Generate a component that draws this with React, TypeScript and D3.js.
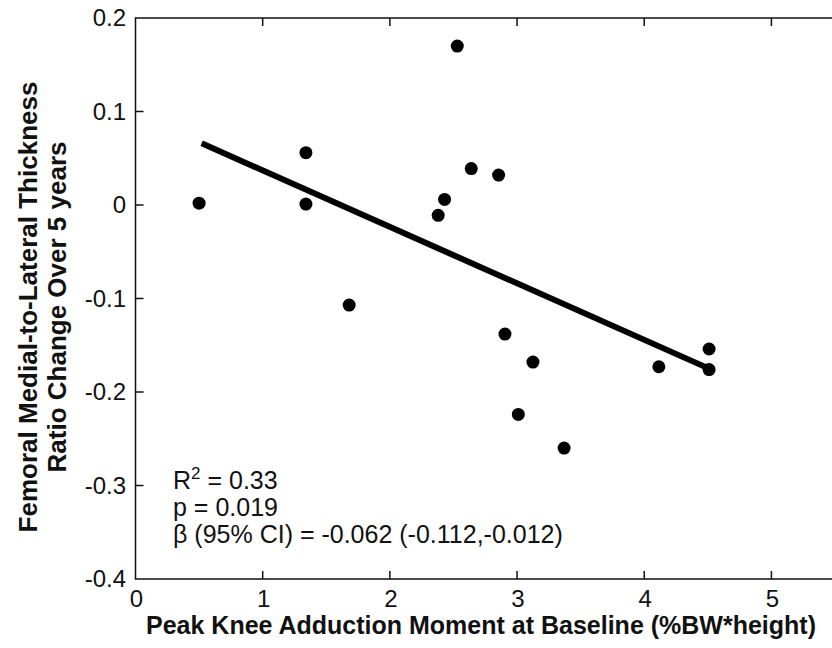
import { useEffect, useRef } from 'react';
import * as d3 from 'd3';

// peak knee adduction moment (x) vs. ratio change over 5 years (y)
const momentValues = [0.5, 1.34, 1.34, 1.68, 2.38, 2.43, 2.53, 2.64, 2.855, 2.905, 3.01, 3.125, 3.37, 4.115, 4.51, 4.51];
const ratioChange = [0.002, 0.056, 0.001, -0.107, -0.011, 0.006, 0.170, 0.039, 0.032, -0.138, -0.224, -0.168, -0.260, -0.173, -0.154, -0.176];

// fitted regression line end points
const fitX = [0.52, 4.51];
const fitY = [0.066, -0.175];

const xTicks = [0, 1, 2, 3, 4, 5];
const xTickLabels = ['0', '1', '2', '3', '4', '5'];
const yTicks = [-0.4, -0.3, -0.2, -0.1, 0, 0.1, 0.2];
const yTickLabels = ['-0.4', '-0.3', '-0.2', '-0.1', '0', '0.1', '0.2'];

const yLabelLines = ['Femoral Medial-to-Lateral Thickness', 'Ratio Change Over 5 years'];
const xLabel = 'Peak Knee Adduction Moment at Baseline (%BW*height)';

const App = () => {
  const svgRef = useRef<SVGSVGElement>(null);
  const width = 832;
  const height = 648;

  useEffect(() => {
    if (!svgRef.current) return;
    const svg = d3.select(svgRef.current);
    svg.selectAll('*').remove();

    const font = '"Liberation Sans", Arial, sans-serif';

    const x = d3.scaleLinear().domain([0, 5.5]).range([135.5, 835]);
    const y = d3.scaleLinear().domain([-0.4, 0.2]).range([579, 18]);

    svg.append('rect')
      .attr('width', width)
      .attr('height', height)
      .attr('fill', '#fff');

    // axes box
    svg.append('rect')
      .attr('x', x(0))
      .attr('y', y(0.2))
      .attr('width', x(5.5) - x(0))
      .attr('height', y(-0.4) - y(0.2))
      .attr('fill', 'none')
      .attr('stroke', '#111')
      .attr('stroke-width', 1.5);

    const tickLen = 8;

    // x ticks (inside, bottom and top)
    const xt = svg.append('g');
    xTicks.forEach((t, i) => {
      if (i > 0) {
        xt.append('line')
          .attr('x1', x(t)).attr('x2', x(t))
          .attr('y1', y(-0.4)).attr('y2', y(-0.4) - tickLen)
          .attr('stroke', '#111').attr('stroke-width', 1.5);
        xt.append('line')
          .attr('x1', x(t)).attr('x2', x(t))
          .attr('y1', y(0.2)).attr('y2', y(0.2) + tickLen)
          .attr('stroke', '#111').attr('stroke-width', 1.5);
      }
      xt.append('text')
        .attr('x', x(t) + 1)
        .attr('y', 607)
        .attr('text-anchor', 'middle')
        .style('font-family', font)
        .style('font-size', '24px')
        .attr('fill', '#111')
        .text(xTickLabels[i]);
    });

    // y ticks (inside, left)
    const yt = svg.append('g');
    yTicks.forEach((t, i) => {
      if (i > 0 && i < yTicks.length - 1) {
        yt.append('line')
          .attr('x1', x(0)).attr('x2', x(0) + tickLen)
          .attr('y1', y(t)).attr('y2', y(t))
          .attr('stroke', '#111').attr('stroke-width', 1.5);
      }
      yt.append('text')
        .attr('x', 126)
        .attr('y', y(t) + 8)
        .attr('text-anchor', 'end')
        .style('font-family', font)
        .style('font-size', '24px')
        .attr('fill', '#111')
        .text(yTickLabels[i]);
    });

    // regression line
    svg.append('line')
      .attr('x1', x(fitX[0])).attr('y1', y(fitY[0]))
      .attr('x2', x(fitX[1])).attr('y2', y(fitY[1]))
      .attr('stroke', '#000')
      .attr('stroke-width', 6);

    // points
    svg.append('g')
      .selectAll('circle')
      .data(momentValues)
      .enter()
      .append('circle')
      .attr('cx', d => x(d))
      .attr('cy', (d, i) => y(ratioChange[i]))
      .attr('r', 6.5)
      .attr('fill', '#000');

    // stats annotation
    const ann = svg.append('g')
      .style('font-family', font)
      .style('font-size', '25px')
      .attr('fill', '#111');
    const r2 = ann.append('text').attr('x', 173).attr('y', 489);
    r2.append('tspan').text('R');
    r2.append('tspan').attr('dy', -10).style('font-size', '17px').text('2');
    r2.append('tspan').attr('dy', 10).text(' = 0.33');
    ann.append('text').attr('x', 173).attr('y', 516).text('p = 0.019');
    ann.append('text').attr('x', 173).attr('y', 543).text('\u03b2 (95% CI) = -0.062 (-0.112,-0.012)');

    // x label
    svg.append('text')
      .attr('x', 481)
      .attr('y', 634)
      .attr('text-anchor', 'middle')
      .style('font-family', font)
      .style('font-size', '25px')
      .style('font-weight', 'bold')
      .attr('fill', '#111')
      .text(xLabel);

    // y label, two lines
    yLabelLines.forEach((line, i) => {
      svg.append('text')
        .attr('transform', `translate(${37 + i * 29},307) rotate(-90)`)
        .attr('text-anchor', 'middle')
        .style('font-family', font)
        .style('font-size', '26px')
        .style('font-weight', 'bold')
        .attr('fill', '#111')
        .text(line);
    });
  }, []);

  return (
    <svg
      ref={svgRef}
      width={width}
      height={height}
      style={{ position: 'absolute', left: 0, top: 0 }}
    />
  );
};

export default App;
